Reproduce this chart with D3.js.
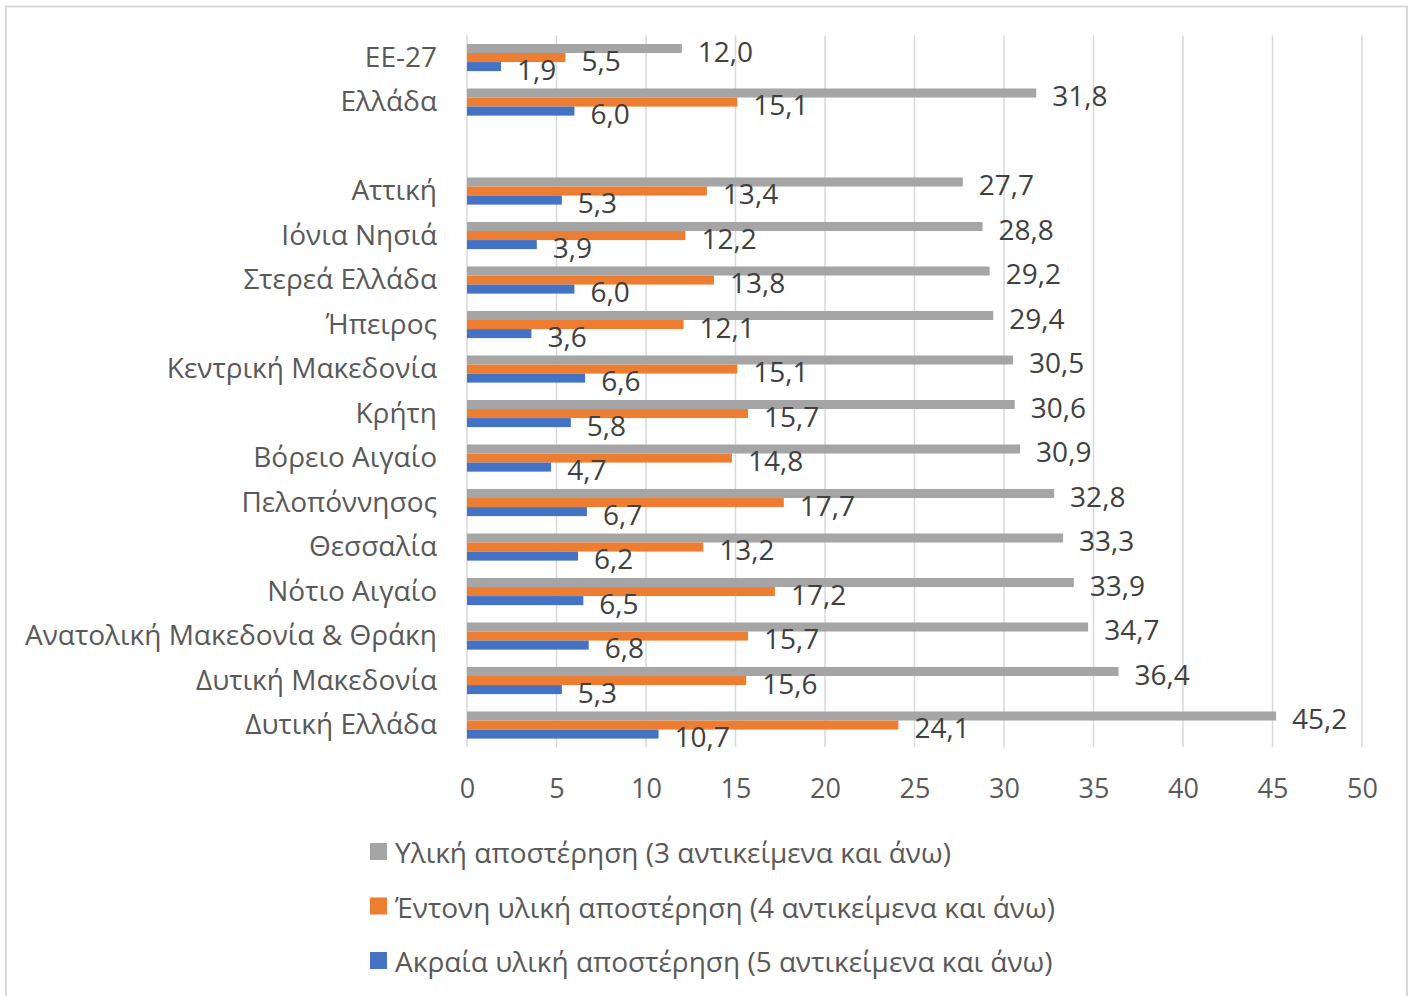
<!DOCTYPE html>
<html>
<head>
<meta charset="utf-8">
<script src="https://cdn.jsdelivr.net/npm/d3@7"></script>
<style>
  body { margin: 0; background: #fff; }
  svg text { font-family: "Open Sans", "Noto Sans", sans-serif; }
</style>
</head>
<body>
<div id="chart"></div>
<script>
const categories = [
    "ΕΕ-27", "Ελλάδα", "", "Αττική", "Ιόνια Νησιά", "Στερεά Ελλάδα", "Ήπειρος",
    "Κεντρική Μακεδονία", "Κρήτη", "Βόρειο Αιγαίο", "Πελοπόννησος", "Θεσσαλία",
    "Νότιο Αιγαίο", "Ανατολική Μακεδονία & Θράκη", "Δυτική Μακεδονία", "Δυτική Ελλάδα"
];
const material = [12.0, 31.8, null, 27.7, 28.8, 29.2, 29.4, 30.5, 30.6, 30.9, 32.8, 33.3, 33.9, 34.7, 36.4, 45.2];
const severe = [5.5, 15.1, null, 13.4, 12.2, 13.8, 12.1, 15.1, 15.7, 14.8, 17.7, 13.2, 17.2, 15.7, 15.6, 24.1];
const extreme = [1.9, 6.0, null, 5.3, 3.9, 6.0, 3.6, 6.6, 5.8, 4.7, 6.7, 6.2, 6.5, 6.8, 5.3, 10.7];
const seriesNames = [
    "Υλική αποστέρηση (3 αντικείμενα και άνω)",
    "Έντονη υλική αποστέρηση (4 αντικείμενα και άνω)",
    "Ακραία υλική αποστέρηση (5 αντικείμενα και άνω)"
];
const seriesColors = ["#A5A5A5", "#ED7D31", "#4472C4"];
const xTicks = [0, 5, 10, 15, 20, 25, 30, 35, 40, 45, 50];

const W = 1415, H = 996;
const svg = d3.select("#chart").append("svg")
    .attr("width", W).attr("height", H);

// outer frame
svg.append("rect")
    .attr("x", 6).attr("y", 6.5)
    .attr("width", 1401).attr("height", 1000)
    .attr("fill", "none").attr("stroke", "#D9D9D9").attr("stroke-width", 2);

const plot = { left: 467, right: 1362, top: 35.3, bottom: 747.3 };

const x = d3.scaleLinear().domain([0, 50]).range([plot.left, plot.right]);
const y = d3.scaleBand().domain(d3.range(categories.length))
    .range([plot.top, plot.bottom]).paddingInner(0.39).paddingOuter(0.195);
const seriesIdx = [0, 1, 2];
const ySub = d3.scaleBand().domain(seriesIdx).range([0, y.bandwidth()]);

// gridlines
svg.append("g").selectAll("line")
    .data(xTicks).join("line")
    .attr("x1", d => x(d)).attr("x2", d => x(d))
    .attr("y1", plot.top).attr("y2", plot.bottom)
    .attr("stroke", "#D9D9D9").attr("stroke-width", 1.5);

// x axis labels
const xAxis = svg.append("g")
    .attr("transform", `translate(0,${plot.bottom})`)
    .call(d3.axisBottom(x).tickValues(xTicks).tickSize(0).tickPadding(32));
xAxis.select(".domain").remove();
xAxis.selectAll("text")
    .attr("font-size", 27).attr("fill", "#595959")
    .attr("font-family", "'Open Sans', sans-serif");

// category labels
const yAxis = svg.append("g")
    .attr("transform", `translate(${plot.left},0)`)
    .call(d3.axisLeft(y).tickFormat(i => categories[i]).tickSize(0).tickPadding(30));
yAxis.select(".domain").remove();
yAxis.selectAll("text")
    .attr("font-size", 28).attr("fill", "#595959")
    .attr("font-family", "'Open Sans', sans-serif");

const fmt = v => d3.format(".1f")(v).replace(".", ",");
const allSeries = [material, severe, extreme];

allSeries.forEach((vals, s) => {
    const rows = vals.map((v, i) => ({ v, i })).filter(d => d.v != null);
    const g = svg.append("g");
    g.selectAll("rect").data(rows).join("rect")
        .attr("x", x(0))
        .attr("y", d => y(d.i) + ySub(s))
        .attr("width", d => x(d.v) - x(0))
        .attr("height", ySub.bandwidth())
        .attr("fill", seriesColors[s]);
    g.selectAll("text").data(rows).join("text")
        .attr("x", d => x(d.v) + 16)
        .attr("y", d => y(d.i) + ySub(s) + ySub.bandwidth() / 2 + 2)
        .attr("dominant-baseline", "central")
        .attr("font-size", 28)
        .attr("fill", "#404040")
        .text(d => fmt(d.v));
});

// legend
const legend = svg.append("g").selectAll("g")
    .data(seriesNames).join("g")
    .attr("transform", (d, i) => `translate(370,${852 + i * 54.5})`);
legend.append("rect")
    .attr("x", 0).attr("y", -9)
    .attr("width", 17).attr("height", 17)
    .attr("fill", (d, i) => seriesColors[i]);
legend.append("text")
    .attr("x", 25).attr("y", 0)
    .attr("dominant-baseline", "central")
    .attr("font-size", 28).attr("fill", "#595959")
    .text(d => d);
</script>
</body>
</html>
